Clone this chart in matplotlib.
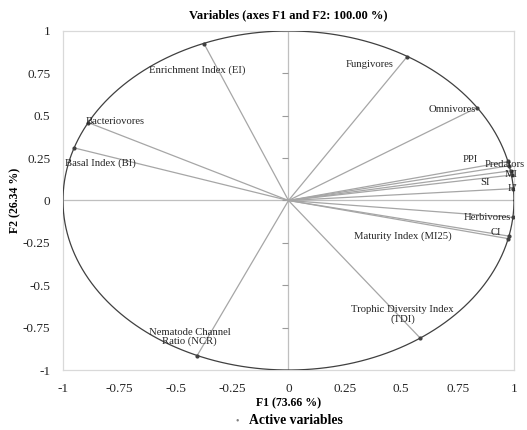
import numpy as np
import matplotlib
matplotlib.use('Agg')
import matplotlib.pyplot as plt

plt.rcParams['font.family'] = ['Liberation Serif', 'DejaVu Serif']

# Variable loadings on F1 / F2
names = ['Enrichment Index (EI)', 'Bacteriovores', 'Basal Index (BI)', 'Fungivores',
         'Omnivores', 'PPI', 'Predators', 'MI', 'SI', "H'", 'Herbivores', 'CI',
         'Maturity Index (MI25)', 'Trophic Diversity Index\n(TDI)',
         'Nematode Channel\nRatio (NCR)']
f1 = [-0.375, -0.889, -0.950, 0.524, 0.835, 0.973, 0.979, 0.985, 0.989, 0.997,
      0.995, 0.974, 0.977, 0.583, -0.405]
f2 = [0.926, 0.460, 0.310, 0.845, 0.547, 0.230, 0.205, 0.175, 0.150, 0.070,
      -0.100, -0.225, -0.210, -0.810, -0.915]

# label anchor points
lab_x = [-0.405, -0.77, -0.836, 0.361, 0.725, 0.807, 0.872, 0.987, 0.871, 0.993,
         0.88, 0.92, 0.508, 0.507, -0.438]
lab_y = [0.767, 0.468, 0.218, 0.802, 0.537, 0.244, 0.212, 0.153, 0.108, 0.070,
         -0.098, -0.19, -0.212, -0.673, -0.806]
lab_ha = ['center'] * 6 + ['left'] + ['center'] * 8

ticks = [-1, -0.75, -0.5, -0.25, 0, 0.25, 0.5, 0.75, 1]
tick_labels = ['-1', '-0.75', '-0.5', '-0.25', '0', '0.25', '0.5', '0.75', '1']

fig = plt.figure(figsize=(5.27, 4.30), dpi=100)
ax = fig.add_axes([0.1195, 0.1395, 0.8558, 0.7885])

# correlation circle
t = np.linspace(0, 2 * np.pi, 400)
ax.plot(np.cos(t), np.sin(t), color='#404040', lw=0.9, zorder=3)

# center axes
ax.axhline(0, color='#bfbfbf', lw=0.9, zorder=1)
ax.axvline(0, color='#bfbfbf', lw=0.9, zorder=1)
ax.plot([0] * len(ticks), ticks, ls='none', marker=0, ms=4, mew=0.8,
        color='#9a9a9a', zorder=1)

for x, y in zip(f1, f2):
    ax.plot([0, x], [0, y], color='#a6a6a6', lw=0.9, zorder=2)
ax.scatter(f1, f2, s=4, color='#404040', zorder=4)

for n, x, y, ha in zip(names, lab_x, lab_y, lab_ha):
    ax.text(x, y, n, fontsize=7.7, ha=ha, va='center', color='#262626',
            linespacing=1.0, zorder=5, clip_on=False)

ax.set_xlim(-1, 1)
ax.set_ylim(-1, 1)
ax.set_xticks(ticks)
ax.set_xticklabels(tick_labels)
ax.set_yticks(ticks)
ax.set_yticklabels(tick_labels)
ax.tick_params(axis='x', length=0, labelsize=9.5, pad=9, colors='#262626')
ax.tick_params(axis='y', length=0, labelsize=9.5, pad=9, colors='#262626')
for s in ax.spines.values():
    s.set_color('#d9d9d9')
    s.set_linewidth(0.9)

ax.set_title('Variables (axes F1 and F2: 100.00 %)', fontsize=9, fontweight='bold', pad=9)
ax.set_xlabel('F1 (73.66 %)', fontsize=8.5, fontweight='bold', labelpad=2)
ax.set_ylabel('F2 (26.34 %)', fontsize=8.5, fontweight='bold', labelpad=1)

fig.text(0.45, 0.021, '\u2022', fontsize=7, color='#808080', ha='center', va='center')
fig.text(0.4725, 0.021, 'Active variables', fontsize=9.8, fontweight='bold', ha='left', va='center')

fig.savefig('out.png', dpi=100)
